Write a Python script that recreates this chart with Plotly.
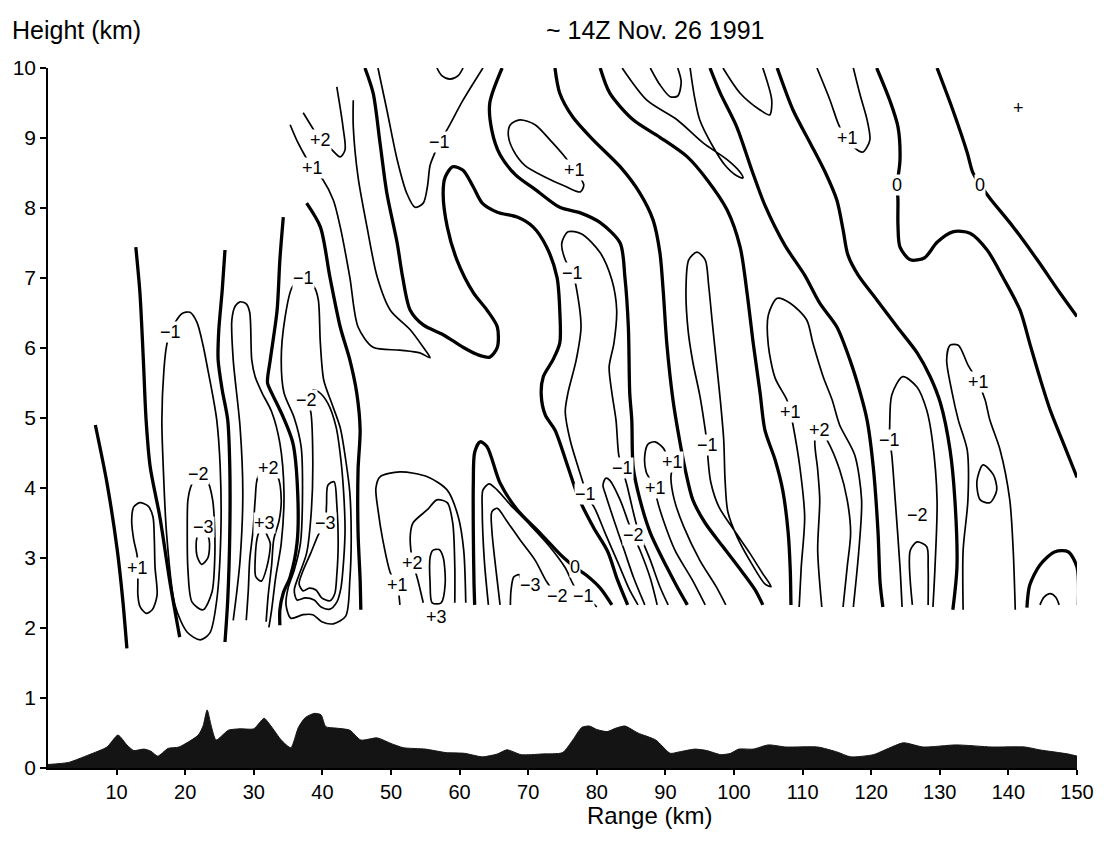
import plotly.graph_objects as go

# ---------------- terrain profile (km) ----------------
terrain_range = [0, 3, 6, 8.6, 10.2, 11.5, 12.5, 14, 15, 16, 17.5, 19.1, 21.9, 22.6, 23.2, 23.8,
                 24.5, 26.3, 28, 30, 31.5, 32.5, 34, 35.4, 36.5, 37.5, 38.8, 39.8, 40.5, 42, 44,
                 45.6, 48, 50, 51.8, 55, 58, 60.7, 63.3, 65.5, 66.9, 69, 72, 75, 76.5, 77.8, 78.9,
                 80, 81.5, 82.8, 84.1, 86, 88.6, 90.7, 92, 94.3, 96, 98.1, 99.5, 100.7, 102.8, 105,
                 107.6, 112.2, 115, 117, 120.3, 122.5, 124.7, 127.6, 132.4, 137.6, 142.4, 144.5,
                 148.7, 150]
terrain_height = [0.05, 0.08, 0.19, 0.30, 0.47, 0.33, 0.25, 0.27, 0.24, 0.17, 0.28, 0.30, 0.47, 0.60,
                  0.83, 0.60, 0.40, 0.54, 0.56, 0.56, 0.71, 0.60, 0.40, 0.29, 0.58, 0.72, 0.78, 0.76,
                  0.59, 0.57, 0.54, 0.40, 0.43, 0.35, 0.29, 0.27, 0.22, 0.21, 0.16, 0.20, 0.26, 0.19,
                  0.20, 0.22, 0.40, 0.58, 0.60, 0.55, 0.52, 0.57, 0.60, 0.50, 0.40, 0.21, 0.23, 0.27,
                  0.25, 0.19, 0.21, 0.27, 0.27, 0.33, 0.30, 0.30, 0.23, 0.16, 0.19, 0.28, 0.36, 0.30,
                  0.33, 0.30, 0.30, 0.26, 0.20, 0.17]

# ---------------- zero isolines (heavy) ----------------
zero_b_x = [6.9, 8.6, 10.1, 10.9, 11.5]
zero_b_y = [4.90, 4.07, 3.11, 2.40, 1.71]
zero_a_x = [12.8, 13.4, 13.9, 14.3, 14.9, 16.3, 17.8, 19.2]
zero_a_y = [7.44, 6.79, 5.83, 4.97, 4.30, 3.59, 2.64, 1.87]
zero_c_x = [25.8, 25.4, 24.9, 24.8, 25.4, 26.2, 26.5, 26.5, 26.2, 25.8]
zero_c_y = [7.40, 6.83, 6.26, 5.83, 5.40, 4.97, 4.30, 3.36, 2.40, 1.80]
zero_d_x = [34.3, 33.8, 33.4, 32.4, 32.0, 32.6, 34.3, 35.7, 36.4, 36.3, 35.3, 34.3, 33.8, 33.8]
zero_d_y = [7.87, 7.26, 6.54, 5.83, 5.50, 5.36, 5.01, 4.64, 3.93, 3.21, 2.73, 2.50, 2.26, 2.04]
zero_e_x = [37.7, 39.7, 41.1, 42.6, 44.0, 45.0, 45.5, 45.2, 45.2, 45.5, 45.6]
zero_e_y = [8.07, 7.73, 7.01, 6.30, 5.83, 5.36, 4.83, 4.26, 3.36, 2.69, 2.26]
zero_f_x = [46.2, 47.4, 48.4, 49.4, 50.9, 51.7, 52.8, 54.7, 57.6, 60.5, 62.5, 64.4, 65.5, 65.5,
            64.0, 62.0, 59.6, 58.2, 57.6, 57.9, 59.0, 60.5, 62.0, 63.3, 65.5, 68.4, 70.7, 72.7,
            74.2, 74.6, 74.6, 73.6, 72.2, 71.9, 72.5, 73.9, 75.8, 77.3, 79.5, 81.6, 83.0, 84.5]
zero_f_y = [10.0, 9.64, 8.93, 8.21, 7.50, 7.01, 6.54, 6.33, 6.19, 6.01, 5.91, 5.87, 6.01, 6.30,
            6.54, 6.79, 7.26, 7.73, 8.21, 8.44, 8.59, 8.54, 8.30, 8.07, 7.94, 7.87, 7.73, 7.44,
            7.01, 6.54, 6.07, 5.83, 5.59, 5.33, 5.04, 4.83, 4.30, 3.87, 3.44, 3.09, 2.69, 2.33]
zero_g_x = [62.2, 62.1, 62.0, 62.0, 62.2, 63.0, 64.0, 65.9, 68.4, 71.7, 75.1, 76.8, 78.4, 80.5, 82.2]
zero_g_y = [2.33, 2.64, 3.36, 4.07, 4.51, 4.66, 4.59, 4.07, 3.69, 3.36, 3.01, 2.87, 2.76, 2.57, 2.33]
zero_h_x = [66.2, 64.4, 64.7, 65.9, 68.2, 71.1, 74.6, 77.6, 80.5, 83.4, 84.1, 84.6, 84.8, 85.1,
            85.3, 86.3, 87.8, 90.2, 91.7, 93.2]
zero_h_y = [10.0, 9.50, 9.11, 8.76, 8.47, 8.26, 8.01, 7.93, 7.79, 7.50, 7.01, 6.30, 5.36, 4.97,
            4.30, 3.83, 3.36, 2.87, 2.59, 2.33]
zero_i_x = [73.9, 74.6, 76.5, 79.5, 83.4, 86.3, 88.2, 89.2, 89.7, 90.2, 91.1, 91.8, 92.9, 94.0,
            95.8, 98.4, 101.2, 103.1, 104.2]
zero_i_y = [10.0, 9.64, 9.30, 8.97, 8.59, 8.21, 7.83, 7.36, 6.79, 6.07, 5.26, 4.83, 4.26, 3.83,
            3.50, 3.16, 2.80, 2.54, 2.33]
zero_j_x = [80.5, 81.9, 85.3, 89.2, 93.2, 96.1, 99.0, 100.9, 101.9, 102.8, 103.8, 104.5, 106.0,
            107.1, 107.9, 108.2, 108.3]
zero_j_y = [10.0, 9.64, 9.26, 9.01, 8.73, 8.40, 7.97, 7.44, 6.79, 6.07, 5.36, 4.83, 4.40, 3.97,
            3.36, 2.83, 2.33]
zero_k_x = [96.5, 98.0, 100.4, 102.6, 104.5, 107.4, 110.3, 112.5, 115.0, 116.9, 118.4, 119.4,
            120.3, 121.0, 121.3, 121.7]
zero_k_y = [10.0, 9.64, 9.16, 8.54, 8.04, 7.47, 7.04, 6.64, 6.30, 5.83, 5.36, 4.97, 4.30, 3.36,
            2.64, 2.30]
zero_l_x = [106.3, 108.6, 111.1, 113.3, 115.0, 115.9, 116.6, 118.1, 120.8, 123.8, 126.7, 128.6,
            130.1, 131.5, 132.2, 132.5, 131.9]
zero_l_y = [10.0, 9.40, 8.93, 8.51, 8.11, 7.69, 7.33, 7.04, 6.69, 6.30, 5.93, 5.59, 5.21, 4.54,
            3.83, 2.87, 2.26]
zero_m_x = [120.8, 122.7, 123.9, 124.2, 123.8, 123.9, 123.9, 124.2, 125.7, 127.8, 129.6, 131.9,
            134.4, 136.9, 139.2, 141.7, 143.1, 144.6, 146.1, 147.8, 149.4, 150.0]
zero_m_y = [10.0, 9.54, 9.16, 8.69, 8.33, 8.11, 7.76, 7.44, 7.26, 7.29, 7.51, 7.66, 7.64, 7.40,
            7.01, 6.54, 6.07, 5.57, 5.11, 4.69, 4.30, 4.15]
zero_n_x = [129.6, 131.9, 134.0, 134.8, 135.9, 137.3, 140.7, 144.2, 147.5, 150.0]
zero_n_y = [10.0, 9.40, 8.79, 8.51, 8.33, 8.14, 7.73, 7.26, 6.79, 6.45]
zero_se_x = [142.7, 143.1, 144.6, 146.8, 148.7, 150.0, 150.2]
zero_se_y = [2.29, 2.61, 2.90, 3.09, 3.09, 2.87, 2.33]

# ---------------- non-zero isolines (light) ----------------
pos1_w_x = [13.0, 12.5, 12.2, 12.5, 13.4, 14.6, 15.3, 15.5, 15.6, 15.9, 15.2, 14.3, 13.4, 13.1, 13.1, 13.0]
pos1_w_y = [3.03, 3.26, 3.54, 3.73, 3.79, 3.74, 3.59, 3.26, 2.87, 2.47, 2.26, 2.21, 2.31, 2.47, 2.66, 3.03]
neg1_w_x = [19.5, 20.7, 21.7, 22.6, 23.3, 24.0, 24.6, 25.1, 25.2, 24.6, 23.6, 22.2, 20.3, 18.5,
            17.3, 16.8, 16.6, 16.9, 17.3, 17.8, 19.5]
neg1_w_y = [6.49, 6.51, 6.37, 6.04, 5.69, 5.33, 4.97, 4.30, 3.36, 2.40, 1.93, 1.83, 1.94, 2.33,
            3.33, 4.30, 4.97, 5.69, 6.04, 6.23, 6.49]
neg2_w_x = [21.9, 23.2, 24.0, 24.3, 24.3, 23.9, 22.6, 21.0, 20.4, 20.3, 20.4, 20.9, 21.9]
neg2_w_y = [4.20, 4.11, 3.83, 3.40, 2.97, 2.51, 2.26, 2.37, 2.83, 3.40, 3.83, 4.04, 4.20]
neg3_w_x = [21.7, 21.7, 22.4, 23.3, 23.5, 22.6, 21.7]
neg3_w_y = [3.29, 3.04, 2.91, 3.00, 3.26, 3.44, 3.29]
pos1_m_x = [27.0, 27.5, 28.0, 28.4, 28.0, 27.0, 26.8, 27.3, 28.0, 28.9, 29.4, 29.7, 30.2, 31.2,
            32.6, 33.8, 34.4, 34.0, 33.2, 32.6, 32.2]
pos1_m_y = [2.11, 2.50, 2.97, 3.93, 4.87, 5.83, 6.40, 6.60, 6.66, 6.63, 6.51, 5.83, 5.59, 5.36,
            5.09, 4.64, 3.93, 3.21, 2.73, 2.26, 2.01]
pos2_m_x = [28.9, 29.2, 29.4, 29.9, 30.2, 30.6, 32.1, 33.5, 34.0, 33.7, 32.9, 32.6, 32.1, 31.8]
pos2_m_y = [2.11, 2.54, 2.97, 3.40, 3.83, 4.16, 4.29, 4.16, 3.83, 3.54, 3.26, 2.90, 2.47, 2.09]
pos3_m_x = [30.6, 30.2, 30.3, 31.1, 31.9, 32.4, 31.8, 31.6, 30.6]
pos3_m_y = [3.33, 2.97, 2.73, 2.67, 2.87, 3.21, 3.36, 3.50, 3.33]
neg1_m_x = [37.2, 35.6, 34.5, 34.0, 34.4, 35.9, 36.9, 37.1, 36.8, 35.9, 35.0, 34.7, 35.4, 37.2,
            38.6, 39.9, 41.6, 43.4, 44.0, 44.2, 44.0, 43.4, 42.6, 41.4, 40.2, 39.7, 39.4, 38.8, 37.2]
neg1_m_y = [7.00, 6.87, 6.40, 5.83, 5.36, 5.00, 4.59, 3.93, 3.21, 2.83, 2.57, 2.33, 2.14, 2.19,
            2.19, 2.09, 2.06, 2.17, 2.69, 3.26, 3.93, 4.40, 4.86, 5.20, 5.54, 6.07, 6.69, 6.87, 7.00]
neg2_m_x = [37.75, 38.3, 38.6, 38.4, 37.7, 36.6, 35.9, 36.3, 37.5, 38.8, 39.8, 41.1, 42.1, 42.7,
            43.1, 43.3, 43.1, 42.7, 42.0, 40.8, 39.5, 38.6, 37.75]
neg2_m_y = [5.26, 5.09, 4.40, 3.69, 3.07, 2.76, 2.54, 2.40, 2.43, 2.40, 2.30, 2.27, 2.37, 2.57,
            2.97, 3.40, 3.93, 4.40, 4.87, 5.21, 5.37, 5.40, 5.26]
neg3_m_x = [40.4, 39.4, 38.3, 37.1, 36.6, 37.2, 38.1, 39.1, 39.9, 41.1, 41.8, 42.1, 42.3, 42.1,
            41.7, 40.8, 40.6, 40.4]
neg3_m_y = [3.50, 3.33, 3.07, 2.80, 2.63, 2.53, 2.57, 2.54, 2.43, 2.39, 2.49, 2.76, 3.19, 3.76,
            4.09, 4.04, 3.76, 3.50]
pos2_nw_x = [37.2, 38.9, 39.65, 41.1, 42.6, 43.3, 43.0, 42.1]
pos2_nw_y = [9.36, 9.09, 8.97, 8.86, 8.73, 8.83, 9.16, 9.73]
pos1_nw_x = [35.3, 36.4, 37.5, 38.6, 40.1, 41.6, 42.6, 44.0, 45.2, 47.4, 51.3, 54.2, 55.7, 54.7,
             52.8, 49.9, 48.0, 46.5, 45.2, 44.5, 44.5]
pos1_nw_y = [9.19, 8.94, 8.74, 8.57, 8.40, 8.11, 7.73, 7.01, 6.30, 6.01, 5.97, 5.93, 5.86, 6.01,
             6.26, 6.54, 7.01, 7.73, 8.44, 9.16, 9.54]
neg1_n_x = [48.1, 49.4, 50.9, 52.3, 53.5, 54.7, 55.3, 55.7, 56.4, 57.1, 58.3, 60.5, 63.4]
neg1_n_y = [10.0, 9.40, 8.69, 8.21, 8.01, 8.07, 8.30, 8.61, 8.79, 8.94, 9.14, 9.54, 10.0]
cap_n_x = [56.7, 57.4, 58.6, 59.8, 60.5]
cap_n_y = [10.0, 9.89, 9.84, 9.89, 10.0]
pos1_n_x = [67.4, 68.8, 71.0, 73.2, 75.1, 76.8, 78.1, 77.6, 75.4, 72.5, 69.5, 67.8, 67.1, 67.4]
pos1_n_y = [9.19, 9.26, 9.19, 8.97, 8.76, 8.54, 8.33, 8.23, 8.31, 8.44, 8.61, 8.83, 9.04, 9.19]
pos1_s_x = [51.3, 50.9, 49.9, 48.8, 48.1, 47.8, 48.4, 51.3, 55.3, 58.2, 59.8, 60.6, 60.9]
pos1_s_y = [2.33, 2.61, 2.79, 3.26, 3.69, 4.00, 4.16, 4.23, 4.16, 3.97, 3.59, 3.11, 2.36]
pos2_s_x = [54.7, 53.9, 53.2, 52.8, 53.2, 55.3, 56.7, 58.2, 59.0, 59.3, 59.3]
pos2_s_y = [2.36, 2.69, 2.93, 3.30, 3.50, 3.69, 3.83, 3.79, 3.50, 2.87, 2.36]
pos3_s_x = [56.1, 57.0, 57.6, 57.9, 57.3, 56.0, 55.7, 55.7, 56.1]
pos3_s_y = [3.11, 3.12, 3.01, 2.64, 2.36, 2.36, 2.64, 3.01, 3.11]
neg1_s_x = [64.2, 63.6, 63.3, 63.4, 64.3, 65.5, 67.4, 70.0, 72.9, 75.4, 76.7, 78.1, 79.3, 80.0]
neg1_s_y = [2.33, 2.97, 3.69, 3.97, 4.06, 3.97, 3.76, 3.50, 3.19, 2.86, 2.60, 2.46, 2.37, 2.30]
neg2_s_x = [65.9, 65.3, 64.7, 64.7, 65.5, 66.8, 68.8, 71.0, 72.7, 74.2]
neg2_s_y = [2.33, 2.83, 3.40, 3.66, 3.71, 3.54, 3.26, 2.97, 2.66, 2.46]
neg3_s_x = [67.4, 67.5, 67.9, 68.7, 69.1, 70.3]
neg3_s_y = [2.33, 2.54, 2.73, 2.76, 2.64, 2.61]
neg1_c_x = [76.5, 75.4, 74.9, 75.8, 77.8, 80.5, 82.2, 82.9, 82.5, 81.8, 82.2, 82.8, 83.2, 83.7,
            84.4, 85.9, 87.8, 89.2, 90.4]
neg1_c_y = [7.07, 7.26, 7.50, 7.66, 7.63, 7.36, 6.97, 6.54, 6.07, 5.73, 5.36, 4.97, 4.47, 4.29,
            4.04, 3.44, 2.97, 2.59, 2.33]
neg1_cb_x = [76.5, 77.0, 77.7, 77.0, 75.8, 75.4, 76.1, 77.3, 78.0, 78.4, 79.7, 81.2, 83.1, 84.8, 86.0]
neg1_cb_y = [7.07, 6.87, 6.30, 5.83, 5.36, 5.09, 4.69, 4.29, 4.07, 3.91, 3.71, 3.36, 2.93, 2.54, 2.33]
neg2_c_x = [87.0, 85.4, 84.0, 82.5, 81.3, 80.9, 81.3, 81.9, 83.4, 84.6, 85.3, 86.3, 87.8, 88.8]
neg2_c_y = [2.33, 2.71, 3.11, 3.54, 3.90, 4.04, 4.14, 4.11, 3.83, 3.51, 3.33, 3.11, 2.71, 2.33]
pos1_c_x = [95.8, 93.9, 91.4, 89.7, 88.8, 88.5, 87.2, 87.0, 87.5, 88.5, 89.7, 90.2, 91.0, 90.8,
            91.3, 92.7, 95.0, 97.4, 98.8]
pos1_c_y = [2.33, 2.69, 3.11, 3.54, 3.83, 4.00, 4.23, 4.47, 4.63, 4.66, 4.57, 4.47, 4.37, 4.14,
            3.83, 3.44, 2.97, 2.59, 2.33]
neg1_l_x = [96.1, 96.2, 96.6, 97.8, 100.0, 102.3, 104.1, 105.4, 104.5, 102.5, 100.5, 99.1, 98.7,
            98.5, 98.0, 97.4, 96.8, 96.3, 95.8, 94.6, 93.4, 93.0, 93.3, 94.0, 95.0, 95.6, 96.1]
neg1_l_y = [4.61, 4.43, 4.09, 3.73, 3.40, 3.07, 2.79, 2.59, 2.63, 2.93, 3.29, 3.66, 4.11, 4.69,
            5.26, 5.83, 6.40, 6.90, 7.26, 7.37, 7.26, 6.83, 6.26, 5.80, 5.33, 4.97, 4.61]
tongue_n_x = [83.7, 87.3, 91.7, 95.5, 99.0, 100.9, 101.3, 100.4, 98.7, 96.8, 95.0, 94.2, 93.6]
tongue_n_y = [10.0, 9.54, 9.26, 8.93, 8.69, 8.51, 8.43, 8.46, 8.61, 8.90, 9.26, 9.61, 10.0]
cap_n2_x = [87.8, 89.2, 90.7, 91.8, 92.3, 91.8]
cap_n2_y = [10.0, 9.76, 9.59, 9.60, 9.80, 10.0]
hook_n_x = [98.4, 100.9, 103.8, 105.2, 105.5, 104.2]
hook_n_y = [10.0, 9.64, 9.40, 9.33, 9.54, 10.0]
pos1_ne_x = [112.1, 114.0, 115.4, 116.6, 117.6, 118.8, 119.8, 119.4, 118.4, 117.4]
pos1_ne_y = [10.0, 9.54, 9.16, 9.00, 8.86, 8.80, 8.97, 9.26, 9.61, 10.0]
pos1_e_x = [109.5, 109.8, 110.3, 109.6, 108.6, 108.2, 107.7, 106.0, 105.0, 105.0, 106.3, 108.2,
            110.6, 111.5, 113.0, 114.3, 115.4, 117.6, 118.6, 118.2, 117.4]
pos1_e_y = [2.30, 2.87, 3.59, 4.30, 4.90, 5.09, 5.26, 5.57, 6.04, 6.47, 6.71, 6.64, 6.40, 6.07,
            5.59, 5.26, 4.90, 4.47, 3.83, 3.11, 2.30]
pos2_e_x = [112.8, 112.2, 112.5, 112.2, 111.8, 112.5, 113.7, 115.4, 116.5, 117.0, 116.5, 115.9]
pos2_e_y = [2.30, 3.11, 3.83, 4.26, 4.69, 4.83, 4.66, 4.26, 3.83, 3.36, 2.87, 2.30]
neg1_e_x = [124.5, 124.2, 123.5, 123.0, 122.7, 122.7, 123.0, 124.6, 126.7, 128.1, 128.9, 129.6, 129.3, 129.0]
neg1_e_y = [2.30, 2.87, 3.83, 4.47, 4.69, 4.90, 5.33, 5.59, 5.44, 5.11, 4.69, 3.83, 2.87, 2.30]
neg2_e_x = [126.0, 125.7, 126.7, 128.1, 128.3, 128.3]
neg2_e_y = [2.33, 3.11, 3.23, 3.16, 2.87, 2.33]
pos1_e2_x = [133.4, 133.4, 134.1, 134.0, 132.7, 131.8, 131.0, 131.5, 132.7, 134.1, 135.6, 136.6,
             137.3, 138.8, 140.2, 140.7, 141.0]
pos1_e2_y = [2.26, 3.11, 3.83, 4.54, 4.97, 5.36, 5.83, 6.04, 6.04, 5.76, 5.51, 5.26, 4.97, 4.54,
             3.83, 3.11, 2.26]
loop_e_x = [136.3, 137.8, 138.3, 137.3, 135.9, 135.4, 136.3]
loop_e_y = [4.33, 4.19, 3.97, 3.79, 3.83, 4.09, 4.33]
arc_se_x = [144.6, 145.2, 146.1, 146.9, 147.4]
arc_se_y = [2.33, 2.44, 2.49, 2.44, 2.33]

# ---------------- isoline labels ----------------
label_text = ["+1", "\u22121", "\u22122", "\u22123", "+2", "+3", "\u22121", "\u22122", "\u22123",
              "+2", "+1", "\u22121", "+1", "\u22121", "+1", "+2", "+3", "\u22123", "\u22122",
              "\u22121", "0", "\u22121", "\u22121", "\u22122", "+1", "+1", "\u22121", "+1", "+2",
              "+1", "0", "0", "\u22121", "\u22122", "+1", "+"]
label_x = [13.1, 17.8, 21.9, 22.6, 32.1, 31.6, 37.2, 37.75, 40.4,
           39.65, 38.6, 57.1, 76.8, 76.5, 50.9, 53.2, 56.7, 70.3, 74.2,
           78.1, 76.8, 78.4, 83.7, 85.3, 88.5, 91.0, 96.1, 108.2, 112.5,
           116.6, 123.8, 135.9, 122.7, 126.7, 135.6, 141.4]
label_y = [2.86, 6.23, 4.20, 3.44, 4.29, 3.50, 7.00, 5.26, 3.50,
           8.97, 8.57, 8.94, 8.54, 7.07, 2.61, 2.93, 2.16, 2.61, 2.46,
           2.46, 2.87, 3.91, 4.29, 3.33, 4.00, 4.37, 4.61, 5.09, 4.83,
           9.00, 8.33, 8.33, 4.69, 3.61, 5.51, 9.43]

x_ticks = list(range(10, 151, 10))
y_ticks = list(range(0, 11))

heavy = [(zero_b_x, zero_b_y), (zero_a_x, zero_a_y), (zero_c_x, zero_c_y), (zero_d_x, zero_d_y),
         (zero_e_x, zero_e_y), (zero_f_x, zero_f_y), (zero_g_x, zero_g_y), (zero_h_x, zero_h_y),
         (zero_i_x, zero_i_y), (zero_j_x, zero_j_y), (zero_k_x, zero_k_y), (zero_l_x, zero_l_y),
         (zero_m_x, zero_m_y), (zero_n_x, zero_n_y), (zero_se_x, zero_se_y)]
light = [(pos1_w_x, pos1_w_y), (neg1_w_x, neg1_w_y), (neg2_w_x, neg2_w_y), (neg3_w_x, neg3_w_y),
         (pos1_m_x, pos1_m_y), (pos2_m_x, pos2_m_y), (pos3_m_x, pos3_m_y), (neg1_m_x, neg1_m_y),
         (neg2_m_x, neg2_m_y), (neg3_m_x, neg3_m_y), (pos2_nw_x, pos2_nw_y), (pos1_nw_x, pos1_nw_y),
         (neg1_n_x, neg1_n_y), (cap_n_x, cap_n_y), (pos1_n_x, pos1_n_y), (pos1_s_x, pos1_s_y),
         (pos2_s_x, pos2_s_y), (pos3_s_x, pos3_s_y), (neg1_s_x, neg1_s_y), (neg2_s_x, neg2_s_y),
         (neg3_s_x, neg3_s_y), (neg1_c_x, neg1_c_y), (neg1_cb_x, neg1_cb_y), (neg2_c_x, neg2_c_y),
         (pos1_c_x, pos1_c_y), (neg1_l_x, neg1_l_y), (tongue_n_x, tongue_n_y), (cap_n2_x, cap_n2_y),
         (hook_n_x, hook_n_y), (pos1_ne_x, pos1_ne_y), (pos1_e_x, pos1_e_y), (pos2_e_x, pos2_e_y),
         (neg1_e_x, neg1_e_y), (neg2_e_x, neg2_e_y), (pos1_e2_x, pos1_e2_y), (loop_e_x, loop_e_y),
         (arc_se_x, arc_se_y)]

FONT = "Liberation Sans, Arial, Helvetica, sans-serif"

fig = go.Figure()

# terrain silhouette
fig.add_trace(go.Scatter(x=terrain_range, y=terrain_height, mode="lines", fill="tozeroy",
                         fillcolor="#141414", line=dict(color="#141414", width=1, shape="spline",
                                                        smoothing=0.6),
                         hoverinfo="skip", showlegend=False))

for xs, ys in light:
    fig.add_trace(go.Scatter(x=xs, y=ys, mode="lines",
                             line=dict(color="black", width=1.7, shape="spline", smoothing=0.8),
                             hoverinfo="skip", showlegend=False))
for xs, ys in heavy:
    fig.add_trace(go.Scatter(x=xs, y=ys, mode="lines",
                             line=dict(color="black", width=3.3, shape="spline", smoothing=0.8),
                             hoverinfo="skip", showlegend=False))

annotations = []
for t, lx, ly in zip(label_text, label_x, label_y):
    annotations.append(dict(x=lx, y=ly, xref="x", yref="y", text=t, showarrow=False,
                            font=dict(family=FONT, size=18, color="black"),
                            bgcolor="white" if t != "+" else "rgba(0,0,0,0)", borderpad=0))

annotations += [
    dict(text="Height (km)", xref="paper", yref="paper", x=-0.037, y=1.054, xanchor="left",
         yanchor="middle", showarrow=False, font=dict(family=FONT, size=25, color="black")),
    dict(text="~ 14Z Nov. 26 1991", xref="paper", yref="paper", x=0.59, y=1.054,
         xanchor="center", yanchor="middle", showarrow=False,
         font=dict(family=FONT, size=25, color="black")),
    dict(text="Range (km)", xref="paper", yref="paper", x=0.585, y=-0.047, xanchor="center",
         yanchor="top", showarrow=False, borderpad=0,
         font=dict(family=FONT, size=24, color="black")),
]

fig.update_layout(
    width=1107, height=842, autosize=False,
    margin=dict(l=48, r=30, t=68, b=74),
    paper_bgcolor="white", plot_bgcolor="white",
    font=dict(family=FONT, color="black"),
    annotations=annotations,
    xaxis=dict(range=[0, 150], tickvals=x_ticks, ticks="outside", ticklen=5, tickwidth=1.5,
               tickcolor="black", showline=True, linecolor="black", linewidth=1.5,
               showgrid=False, zeroline=False, tickfont=dict(size=20, family=FONT)),
    yaxis=dict(range=[0, 10], tickvals=y_ticks, ticks="outside", ticklen=6, tickwidth=1.5,
               tickcolor="black", showline=True, linecolor="black", linewidth=1.5,
               showgrid=False, zeroline=False, tickfont=dict(size=21, family=FONT)),
)

fig.write_html("out.html")
